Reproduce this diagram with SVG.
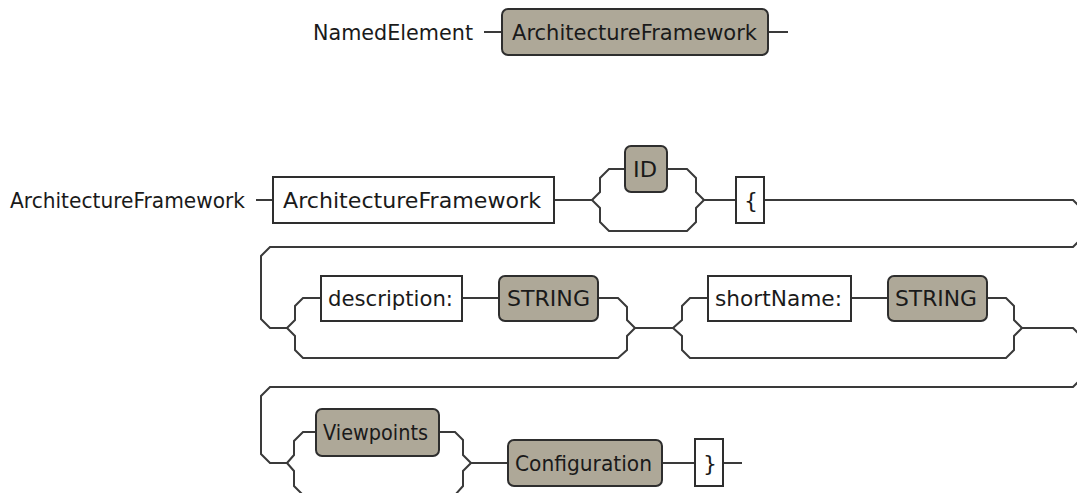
<svg xmlns="http://www.w3.org/2000/svg" width="1077" height="493" viewBox="0 0 1077 493">
<style>
.bg{fill:#ffffff}
.nt{fill:#aea898;stroke:#2e2e2e;stroke-width:2}
.t{fill:#ffffff;stroke:#2e2e2e;stroke-width:2}
.c{fill:none;stroke:#3a3a3a;stroke-width:2;stroke-linejoin:miter}
text{font-family:"DejaVu Sans","Liberation Sans",sans-serif;font-size:22px;fill:#1a1a1a}
</style>
<rect class="bg" x="0" y="0" width="1077" height="493"/>
<g id="connectors">
<path class="c" d="M484,32 H502 M768,32 H788"/>
<path class="c" d="M256,200 H273 M554,200 H592"/>
<path class="c" d="M592,200 L600,192 V178 L609,169 H625 M667,169 H687 L696,178 V192 L704,200"/>
<path class="c" d="M592,200 L600,208 V222 L609,231 H687 L696,222 V208 L704,200"/>
<path class="c" d="M704,200 H736"/>
<path class="c" d="M764,200 H1073 L1080,207 V240 L1073,247 H270 L261,256 V319 L270,328 H287"/>
<path class="c" d="M287,328 L295,320 V306 L303,298 H321 M462,298 H499 M598,298 H618 L627,307 V320 L635,328"/>
<path class="c" d="M287,328 L295,336 V350 L303,358 H618 L627,350 V336 L635,328"/>
<path class="c" d="M635,328 H673"/>
<path class="c" d="M673,328 L682,320 V306 L690,298 H708 M851,298 H888 M987,298 H1006 L1014,306 V320 L1022,328"/>
<path class="c" d="M673,328 L682,336 V350 L690,358 H1006 L1014,350 V336 L1022,328"/>
<path class="c" d="M1022,328 H1073 L1080,335 V380 L1073,387 H270 L261,396 V454 L270,463 H287"/>
<path class="c" d="M287,463 L294,455 V441 L303,432 H316 M439,432 H455 L463,440 V455 L471,463"/>
<path class="c" d="M287,463 L294,471 V486 L303,495 H455 L463,486 V471 L471,463"/>
<path class="c" d="M471,463 H508 M662,463 H695 M723,463 H742"/>
</g>
<g id="lbl-namedelement"><text x="313" y="40" textLength="160" lengthAdjust="spacingAndGlyphs">NamedElement</text></g>
<g id="node-af-top"><rect class="nt" x="502" y="9" width="266" height="46" rx="6"/><text x="512" y="40" textLength="245" lengthAdjust="spacingAndGlyphs">ArchitectureFramework</text></g>
<g id="lbl-af"><text x="10" y="208" textLength="235" lengthAdjust="spacingAndGlyphs">ArchitectureFramework</text></g>
<g id="node-af-kw"><rect class="t" x="273" y="177" width="281" height="46"/><text x="283" y="208" textLength="258" lengthAdjust="spacingAndGlyphs">ArchitectureFramework</text></g>
<g id="node-id"><rect class="nt" x="625" y="146" width="42" height="46" rx="6"/><text x="633" y="177" textLength="24" lengthAdjust="spacingAndGlyphs">ID</text></g>
<g id="node-lbrace"><rect class="t" x="736" y="177" width="28" height="46"/><text x="744" y="208">{</text></g>
<g id="node-desc"><rect class="t" x="321" y="276" width="141" height="45"/><text x="328" y="306" textLength="125" lengthAdjust="spacingAndGlyphs">description:</text></g>
<g id="node-string1"><rect class="nt" x="499" y="276" width="99" height="45" rx="6"/><text x="507" y="306" textLength="83" lengthAdjust="spacingAndGlyphs">STRING</text></g>
<g id="node-short"><rect class="t" x="708" y="276" width="143" height="45"/><text x="715" y="306" textLength="127" lengthAdjust="spacingAndGlyphs">shortName:</text></g>
<g id="node-string2"><rect class="nt" x="888" y="276" width="99" height="45" rx="6"/><text x="895" y="306" textLength="82" lengthAdjust="spacingAndGlyphs">STRING</text></g>
<g id="node-viewpoints"><rect class="nt" x="316" y="409" width="123" height="47" rx="6"/><text x="323" y="440" textLength="105" lengthAdjust="spacingAndGlyphs">Viewpoints</text></g>
<g id="node-config"><rect class="nt" x="508" y="440" width="154" height="46" rx="6"/><text x="515" y="471" textLength="137" lengthAdjust="spacingAndGlyphs">Configuration</text></g>
<g id="node-rbrace"><rect class="t" x="695" y="439" width="28" height="47"/><text x="703" y="471">}</text></g>
</svg>
